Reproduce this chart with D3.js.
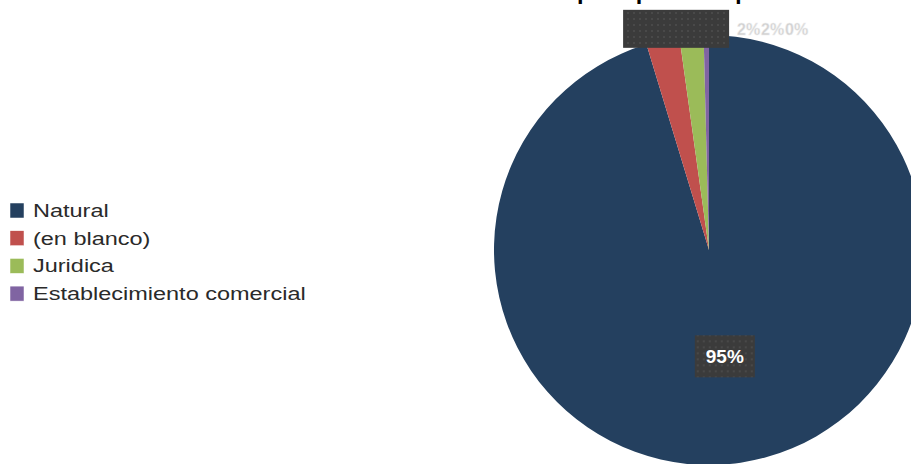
<!DOCTYPE html>
<html>
<head>
<meta charset="utf-8">
<script src="https://cdn.jsdelivr.net/npm/d3@7"></script>
<style>
  body { margin:0; background:#fff; }
  svg { display:block; font-family:"Liberation Sans", Arial, sans-serif; }
</style>
</head>
<body>
<div id="chart"></div>
<script>
(function(){
  'use strict';

  var categories = ['Natural', '(en blanco)', 'Juridica', 'Establecimiento comercial'];
  var values = [95.3, 2.5, 1.8, 0.4];
  var labels = ['95%', '2%', '2%', '0%'];
  var colors = ['#24405f', '#c0504d', '#9bbb59', '#8064a2'];
  var title = 'Distribución de solicitudes por tipo de requirente';

  var W = 911, H = 464;
  var cx = 709, cy = 250, r = 215;

  var svg = d3.select('#chart').append('svg')
    .attr('width', W).attr('height', H);

  // dotted dark pattern used by the data label boxes
  var pat = svg.append('defs').append('pattern')
    .attr('id', 'dots').attr('width', 6).attr('height', 6)
    .attr('patternUnits', 'userSpaceOnUse');
  pat.append('rect').attr('width', 6).attr('height', 6).attr('fill', '#3b3b3b');
  pat.append('circle').attr('cx', 3).attr('cy', 3).attr('r', 0.8).attr('fill', '#5a5a5a');

  // title, mostly cut by the top edge (as in the original)
  svg.append('text')
    .attr('x', 270).attr('y', -0.5)
    .attr('textLength', 550).attr('lengthAdjust', 'spacingAndGlyphs')
    .attr('font-size', 21).attr('font-weight', 'bold')
    .attr('fill', '#000')
    .text(title);

  var data = categories.map(function(c, i){ return {name:c, value:values[i], label:labels[i], color:colors[i]}; });

  var pie = d3.pie().sort(null).value(function(d){ return d.value; });
  var arc = d3.arc().innerRadius(0).outerRadius(r);
  var arcs = pie(data);

  var g = svg.append('g').attr('transform', 'translate(' + cx + ',' + cy + ')');

  g.selectAll('path.slice')
    .data(arcs)
    .enter().append('path')
    .attr('class', 'slice')
    .attr('d', arc)
    .attr('fill', function(d){ return d.data.color; });

  // big label inside Natural
  var big = arcs[0];
  var c0 = arc.centroid(big);
  var lb = g.append('g').attr('transform', 'translate(' + (c0[0]) + ',' + (c0[1]) + ')');
  lb.append('rect').attr('x', -30).attr('y', -21).attr('width', 60).attr('height', 42)
    .attr('fill', 'url(#dots)');
  lb.append('text').attr('text-anchor', 'middle').attr('y', 7)
    .attr('font-size', 19).attr('font-weight', 'bold')
    .attr('fill', '#fff').text(big.data.label);

  // small slices: labels pushed out at the top, crowded together
  var small = arcs.slice(1);
  var outArc = d3.arc().innerRadius(r * 1.04).outerRadius(r * 1.04);
  var mid = outArc.centroid({startAngle: small[0].startAngle, endAngle: small[small.length - 1].endAngle});
  g.append('rect')
    .attr('x', mid[0] - 53).attr('y', mid[1] - 19)
    .attr('width', 106).attr('height', 38)
    .attr('fill', 'url(#dots)');
  g.selectAll('text.small')
    .data(small)
    .enter().append('text')
    .attr('class', 'small')
    .attr('x', function(d, i){ return mid[0] + 61 + i * 24; })
    .attr('y', mid[1] + 6)
    .attr('font-size', 16).attr('font-weight', 'bold')
    .attr('fill', '#d0d0d0')
    .attr('stroke', '#eeeeee').attr('stroke-width', 0.5)
    .text(function(d){ return d.data.label; });

  // legend
  var leg = svg.append('g').attr('transform', 'translate(10,203)');
  var item = leg.selectAll('g.item')
    .data(data)
    .enter().append('g')
    .attr('class', 'item')
    .attr('transform', function(d, i){ return 'translate(0,' + (i * 27.7) + ')'; });
  item.append('rect').attr('width', 14).attr('height', 15)
    .attr('fill', function(d){ return d.color; })
    .attr('stroke', '#fff').attr('stroke-width', 0.5);
  item.append('text')
    .attr('transform', 'translate(23,14) scale(1.27,1)')
    .attr('font-size', 18.5).attr('fill', '#2a2a2a')
    .text(function(d){ return d.name; });

})();
</script>
</body>
</html>
